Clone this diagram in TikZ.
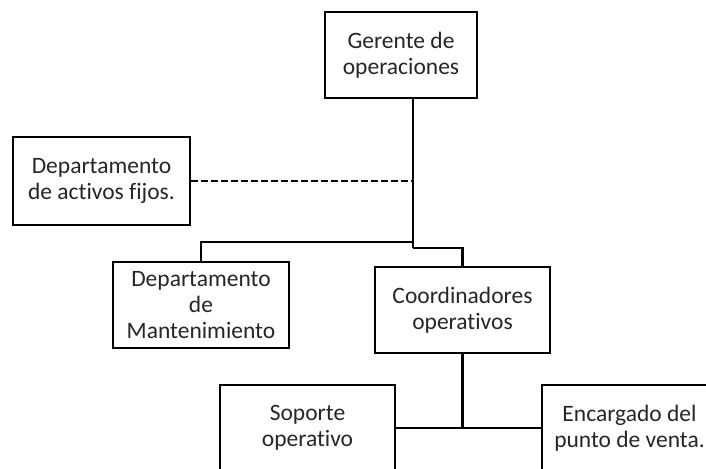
\documentclass[tikz,border=0pt]{standalone}
\usepackage{fontspec}
\setmainfont{Carlito}[RawFeature={-liga;-clig;-calt;-dlig}]
\usepackage{tikz}
\usetikzlibrary{positioning,calc}

\begin{document}
\begin{tikzpicture}[x=1pt, y=-1pt,
    box/.style={draw, line width=2.2pt, fill=white, align=center, inner sep=0pt,
        minimum width=176pt, minimum height=86pt, text=black!85,
        font=\fontsize{23.5}{26}\selectfont},
    link/.style={line width=2.2pt}]
    \clip (0,0) rectangle (706,468);

    \node [box, minimum width=152pt] (G) at (401,55) {Gerente de\\operaciones};
    \node [box, minimum width=177pt, minimum height=88pt] (AF) at (101.5,181) {Departamento\\de activos fijos.};
    \node [box] (DM) at (201,305) {Departamento\\de\\Mantenimiento};
    \node [box, minimum width=175pt] (CO) at (462.5,310) {Coordinadores\\operativos};
    \node [box, minimum width=175pt] (SO) at (307.5,428) {Soporte\\operativo};
    \node [box, minimum width=175pt] (EP) at (629.5,428) {Encargado del\\punto de venta.};

    \coordinate (J1) at (413,242);
    \coordinate (J2) at (413,248);
    \coordinate (J3) at (CO.south |- SO.east);

    \draw [link] (G.south -| J1) -- (J2);
    \draw [link] (J1) -| (DM.north);
    \draw [link] (J2) -| (CO.north);
    \draw [link, dashed, dash pattern=on 7pt off 3pt] (AF.east) -- (AF.east -| J1);
    \draw [link] (CO.south) -- (J3);
    \draw [link] (SO.east) -- (EP.west);
\end{tikzpicture}
\end{document}
